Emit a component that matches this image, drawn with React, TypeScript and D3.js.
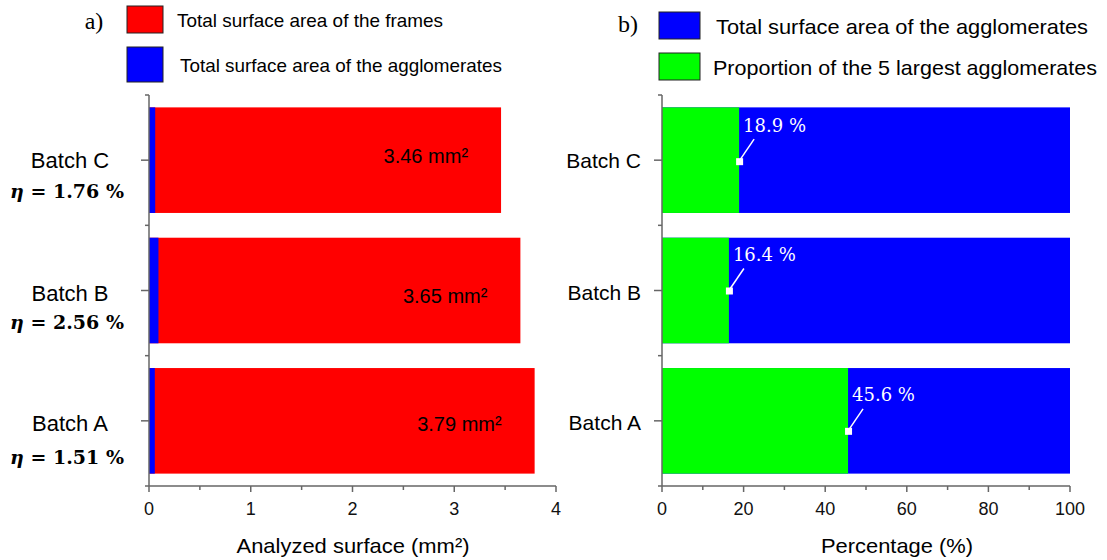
import React from "react";
import * as d3 from "d3";

// data
const batches = ["Batch C", "Batch B", "Batch A"];
const etaLabels = ["1.76 %", "2.56 %", "1.51 %"];
const frameArea = [3.46, 3.65, 3.79]; // mm²
const agglomArea = [0.061, 0.093, 0.057]; // mm²
const largestShare = [18.9, 16.4, 45.6]; // %
const xTicksA = [0, 1, 2, 3, 4];
const xTicksB = [0, 20, 40, 60, 80, 100];

const RED = "#ff0000";
const BLUE = "#0000ff";
const GREEN = "#00ff00";
const AXIS = "#666";
const SANS = "Liberation Sans, Arial, sans-serif";
const SERIF = "Liberation Serif, Times New Roman, serif";
const MATH = "DejaVu Serif, serif";

// small per-row nudges for labels
const valueDy: Record<string, number> = { "Batch C": -4, "Batch B": 5, "Batch A": 3 };
const markerDy: Record<string, number> = { "Batch C": 1, "Batch B": 0, "Batch A": 10 };

export default function App() {
  const width = 1107;
  const height = 560;
  const top = 95;
  const bottom = 486;

  const y = d3.scaleBand().domain(batches).range([top, bottom]).paddingInner(0.19).paddingOuter(0.095);
  const step = (bottom - top) / batches.length;
  const bounds = d3.range(batches.length + 1).map((i) => top + i * step);

  const xA = d3.scaleLinear().domain([0, 4]).range([149, 556]);
  const xB = d3.scaleLinear().domain([0, 100]).range([662, 1070]);

  const minorA = d3.range(0.5, 4, 1);
  const minorB = d3.range(10, 100, 20);

  const bw = y.bandwidth();

  return (
    <div style={{ position: "absolute", left: 0, top: 0 }}>
      <svg width={width} height={height} style={{ display: "block", background: "#fff" }}>
        {/* ---------- panel a ---------- */}
        <text x={94} y={21} fontFamily={SERIF} fontSize={24} textAnchor="middle" dominantBaseline="central">a)</text>
        <rect x={127} y={6} width={36} height={27} fill={RED} stroke="#222" strokeWidth={1} />
        <text x={177} y={20} fontFamily={SANS} fontSize={19} dominantBaseline="central" textLength={266} lengthAdjust="spacingAndGlyphs">
          Total surface area of the frames
        </text>
        <rect x={127} y={47} width={36} height={35} fill={BLUE} stroke="#222" strokeWidth={1} />
        <text x={180} y={65} fontFamily={SANS} fontSize={19} dominantBaseline="central" textLength={322} lengthAdjust="spacingAndGlyphs">
          Total surface area of the agglomerates
        </text>

        {batches.map((b, i) => (
          <g key={`a-${b}`}>
            <rect x={xA(0)} y={y(b)} width={xA(frameArea[i]) - xA(0)} height={bw} fill={RED} />
            <rect x={xA(0)} y={y(b)} width={xA(agglomArea[i]) - xA(0)} height={bw} fill={BLUE} />
            <text
              x={xA(frameArea[i]) - 33}
              y={y(b)! + bw / 2 + valueDy[b]}
              fontFamily={SANS}
              fontSize={20}
              textAnchor="end"
              dominantBaseline="central"
            >
              {frameArea[i].toFixed(2)} mm²
            </text>
            <text x={70} y={y(b)! + bw / 2 + (b === "Batch C" ? 0 : 3)} fontFamily={SANS} fontSize={22} textAnchor="middle" dominantBaseline="central">
              {b}
            </text>
            <text
              x={67}
              y={y(b)! + bw / 2 + (b === "Batch A" ? 36 : 31)}
              fontFamily={MATH}
              fontSize={19}
              fontWeight={600}
              textAnchor="middle"
              dominantBaseline="central"
            >
              <tspan fontStyle="italic">η</tspan>
              {" = " + etaLabels[i]}
            </text>
          </g>
        ))}

        {/* axes a */}
        <line x1={xA(0)} x2={xA(0)} y1={top} y2={bottom} stroke={AXIS} strokeWidth={1.5} />
        <line x1={xA(0)} x2={xA(4)} y1={bottom} y2={bottom} stroke={AXIS} strokeWidth={1.5} />
        {batches.map((b) => (
          <line key={`ta-${b}`} x1={xA(0) - 8} x2={xA(0)} y1={y(b)! + bw / 2} y2={y(b)! + bw / 2} stroke={AXIS} strokeWidth={1.5} />
        ))}
        {bounds.map((v, i) => (
          <line key={`ma-${i}`} x1={xA(0) - 4} x2={xA(0)} y1={v} y2={v} stroke={AXIS} strokeWidth={1.5} />
        ))}
        {xTicksA.map((t) => (
          <g key={`xa-${t}`}>
            <line x1={xA(t)} x2={xA(t)} y1={bottom} y2={bottom + 6} stroke={AXIS} strokeWidth={1.5} />
            <text x={xA(t)} y={509} fontFamily={SANS} fontSize={18} textAnchor="middle" dominantBaseline="central" fill="#111">
              {t}
            </text>
          </g>
        ))}
        {minorA.map((t) => (
          <line key={`xam-${t}`} x1={xA(t)} x2={xA(t)} y1={bottom} y2={bottom + 4} stroke={AXIS} strokeWidth={1.5} />
        ))}
        <text x={353} y={545} fontFamily={SANS} fontSize={21} textAnchor="middle" dominantBaseline="central" textLength={233} lengthAdjust="spacingAndGlyphs">
          Analyzed surface (mm²)
        </text>

        {/* ---------- panel b ---------- */}
        <text x={628} y={24} fontFamily={SERIF} fontSize={24} textAnchor="middle" dominantBaseline="central">b)</text>
        <rect x={659} y={12} width={41} height={27} fill={BLUE} stroke="#222" strokeWidth={1} />
        <text x={716} y={26} fontFamily={SANS} fontSize={21} dominantBaseline="central" textLength={372} lengthAdjust="spacingAndGlyphs">
          Total surface area of the agglomerates
        </text>
        <rect x={659} y={53} width={41} height={27} fill={GREEN} stroke="#222" strokeWidth={1} />
        <text x={713} y={67} fontFamily={SANS} fontSize={21} dominantBaseline="central" textLength={384} lengthAdjust="spacingAndGlyphs">
          Proportion of the 5 largest agglomerates
        </text>

        {batches.map((b, i) => {
          const mx = xB(largestShare[i]);
          const my = y(b)! + bw / 2 + markerDy[b];
          return (
            <g key={`b-${b}`}>
              <rect x={xB(0)} y={y(b)} width={xB(100) - xB(0)} height={bw} fill={BLUE} />
              <rect x={xB(0)} y={y(b)} width={mx - xB(0)} height={bw} fill={GREEN} />
              <line x1={mx} y1={my} x2={mx + 15} y2={my - 22} stroke="#fff" strokeWidth={1.5} />
              <rect x={mx - 3} y={my - 3} width={7} height={7} fill="#fff" />
              <text x={mx + 4} y={my - 36} fontFamily={MATH} fontSize={18} fill="#fff" dominantBaseline="central">
                {largestShare[i].toFixed(1)} %
              </text>
              <text x={641} y={y(b)! + bw / 2 + (b === "Batch C" ? 0 : 2)} fontFamily={SANS} fontSize={21} textAnchor="end" dominantBaseline="central">
                {b}
              </text>
            </g>
          );
        })}

        {/* axes b */}
        <line x1={xB(0)} x2={xB(0)} y1={top} y2={bottom} stroke={AXIS} strokeWidth={1.5} />
        <line x1={xB(0)} x2={xB(100)} y1={bottom} y2={bottom} stroke={AXIS} strokeWidth={1.5} />
        {batches.map((b) => (
          <line key={`tb-${b}`} x1={xB(0) - 8} x2={xB(0)} y1={y(b)! + bw / 2} y2={y(b)! + bw / 2} stroke={AXIS} strokeWidth={1.5} />
        ))}
        {bounds.map((v, i) => (
          <line key={`mb-${i}`} x1={xB(0) - 4} x2={xB(0)} y1={v} y2={v} stroke={AXIS} strokeWidth={1.5} />
        ))}
        {xTicksB.map((t) => (
          <g key={`xb-${t}`}>
            <line x1={xB(t)} x2={xB(t)} y1={bottom} y2={bottom + 6} stroke={AXIS} strokeWidth={1.5} />
            <text x={xB(t)} y={509} fontFamily={SANS} fontSize={18} textAnchor="middle" dominantBaseline="central" fill="#111">
              {t}
            </text>
          </g>
        ))}
        {minorB.map((t) => (
          <line key={`xbm-${t}`} x1={xB(t)} x2={xB(t)} y1={bottom} y2={bottom + 4} stroke={AXIS} strokeWidth={1.5} />
        ))}
        <text x={897} y={545} fontFamily={SANS} fontSize={21} textAnchor="middle" dominantBaseline="central" textLength={152} lengthAdjust="spacingAndGlyphs">
          Percentage (%)
        </text>
      </svg>
    </div>
  );
}
